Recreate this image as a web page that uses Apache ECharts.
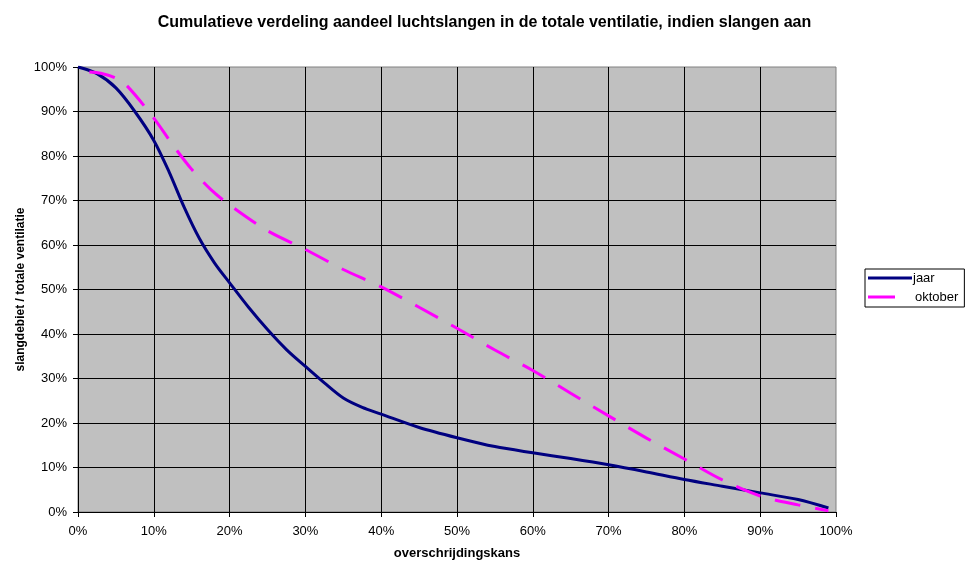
<!DOCTYPE html>
<html>
<head>
<meta charset="utf-8">
<script src="https://cdn.jsdelivr.net/npm/echarts@6/dist/echarts.min.js"></script>
<style>
  html, body { margin: 0; padding: 0; background: #ffffff; }
  #chart { width: 969px; height: 561px; }
</style>
</head>
<body>
<div id="chart"></div>
<script>
// Exceedance probability (%) and share of air hoses in total ventilation (%)
const jaarX = [0, 2.5, 5, 7.5, 10, 12, 14, 16, 18, 20, 22.5, 25, 27.5, 30, 32.5, 35, 37.5, 40, 45, 50, 55, 60, 65, 70, 75, 80, 85, 90, 95, 99];
const jaarY = [100, 98.5, 95.3, 90, 83.5, 76.5, 68.5, 61.5, 56, 51.5, 46, 41, 36.5, 32.7, 29, 25.6, 23.5, 22, 19, 16.7, 14.7, 13.3, 12, 10.6, 9, 7.3, 5.8, 4.3, 2.8, 0.9];

const oktoberX = [1.5, 3, 5, 6.5, 10, 12.5, 15, 17.5, 20, 25, 30, 35, 40, 45, 50, 55, 60, 65, 70, 75, 80, 85, 90, 95, 99];
const oktoberY = [98.9, 98.6, 97.5, 95.7, 88.5, 82.5, 77, 72.5, 69, 63.2, 59, 54.5, 50.6, 46, 41.3, 36.4, 31.8, 26.7, 21.6, 16.6, 11.9, 7.2, 3.6, 1.6, 0.3];

const axisTicks = { min: 0, max: 100, interval: 10 };

const pairs = (xs, ys) => xs.map((x, i) => [x, ys[i]]);

const font = 'Arial, "Liberation Sans", sans-serif';

const chart = echarts.init(document.getElementById('chart'), null, { renderer: 'canvas' });

chart.setOption({
  animation: false,
  backgroundColor: '#ffffff',
  title: {
    text: 'Cumulatieve verdeling aandeel luchtslangen in de totale ventilatie, indien slangen aan',
    left: 'center',
    top: 10,
    textStyle: { fontFamily: font, fontSize: 16, fontWeight: 'bold', color: '#000000' }
  },
  grid: {
    left: 78, right: 133, top: 67, bottom: 49,
    outerBoundsMode: 'none',
    containLabel: false,
    show: true,
    backgroundColor: '#C0C0C0',
    borderColor: '#808080',
    borderWidth: 1
  },
  legend: {
    orient: 'vertical',
    left: 865,
    top: 269,
    backgroundColor: '#ffffff',
    borderColor: '#000000',
    borderWidth: 1,
    borderRadius: 0,
    padding: [2, 6, 3, 3],
    itemWidth: 44,
    itemHeight: 14,
    itemGap: 5,
    textStyle: { fontFamily: font, fontSize: 13, color: '#000000', lineHeight: 14 },
    data: [
      { name: 'jaar', icon: 'path://M0,0 L44,0 L44,3 L0,3 Z', itemStyle: { color: '#000080' },
        textStyle: { padding: [0, 0, 0, -4] } },
      { name: 'oktober', icon: 'path://M0,0 L27,0 L27,3 L0,3 L0,0 M27,0 L44,0 L44,0.01 L27,0.01 Z', itemStyle: { color: '#FF00FF' },
        textStyle: { padding: [0, 0, 0, -2] } }
    ]
  },
  xAxis: {
    type: 'value',
    min: axisTicks.min, max: axisTicks.max, interval: axisTicks.interval,
    name: 'overschrijdingskans',
    nameLocation: 'middle',
    nameGap: 35,
    nameTextStyle: { fontFamily: font, fontSize: 13, fontWeight: 'bold', color: '#000000' },
    axisLine: { show: true, lineStyle: { color: '#000000', width: 1 } },
    axisTick: { show: true, length: 5, lineStyle: { color: '#000000' } },
    axisLabel: { formatter: '{value}%', margin: 13, fontFamily: font, fontSize: 13, color: '#000000' },
    splitLine: { show: true, showMaxLine: false, lineStyle: { color: '#000000', width: 1 } }
  },
  yAxis: {
    type: 'value',
    min: axisTicks.min, max: axisTicks.max, interval: axisTicks.interval,
    name: 'slangdebiet / totale ventilatie',
    nameLocation: 'middle',
    nameGap: 51,
    nameMoveOverlap: false,
    nameRotate: 90,
    nameTextStyle: { fontFamily: font, fontSize: 12, fontWeight: 'bold', color: '#000000' },
    axisLine: { show: true, lineStyle: { color: '#000000', width: 1 } },
    axisTick: { show: true, length: 5, lineStyle: { color: '#000000' } },
    axisLabel: { formatter: '{value}%', margin: 11, fontFamily: font, fontSize: 13, color: '#000000' },
    splitLine: { show: true, showMaxLine: false, lineStyle: { color: '#000000', width: 1 } }
  },
  series: [
    {
      name: 'jaar',
      type: 'line',
      data: pairs(jaarX, jaarY),
      smooth: 0.3,
      showSymbol: false,
      lineStyle: { color: '#000080', width: 3 },
      itemStyle: { color: '#000080' },
      z: 2
    },
    {
      name: 'oktober',
      type: 'line',
      data: pairs(oktoberX, oktoberY),
      smooth: 0.3,
      showSymbol: false,
      lineStyle: { color: '#FF00FF', width: 3, type: [26, 15] },
      itemStyle: { color: '#FF00FF' },
      z: 3
    }
  ]
});
</script>
</body>
</html>
